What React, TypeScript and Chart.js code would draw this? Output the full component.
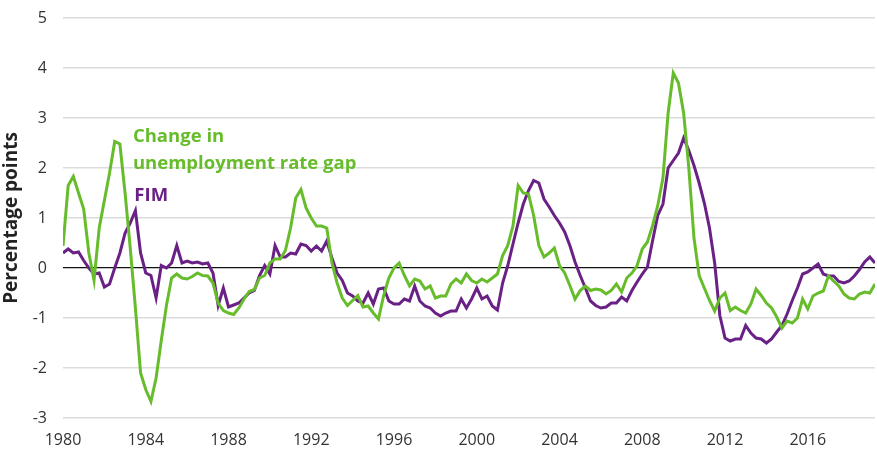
import React, { useEffect, useRef } from "react";
import { Chart, registerables } from "chart.js";

Chart.register(...registerables);

const START_YEAR = 1980;
const X_TICKS = [1980, 1984, 1988, 1992, 1996, 2000, 2004, 2008, 2012, 2016];
const Y_TICKS = [-3, -2, -1, 0, 1, 2, 3, 4, 5];

// Quarterly values from 1980Q1
const unemploymentGapChange = [
  0.44, 1.65, 1.83, 1.5, 1.18, 0.3, -0.25, 0.8, 1.35, 1.9,
  2.53, 2.48, 1.5, 0.4, -0.8, -2.1, -2.43, -2.67, -2.2, -1.45,
  -0.75, -0.2, -0.12, -0.2, -0.22, -0.17, -0.1, -0.15, -0.16, -0.3,
  -0.7, -0.85, -0.9, -0.93, -0.8, -0.62, -0.47, -0.43, -0.2, -0.15,
  0.1, 0.18, 0.18, 0.35, 0.8, 1.4, 1.57, 1.2, 1.0, 0.84,
  0.84, 0.8, 0.1, -0.3, -0.6, -0.75, -0.65, -0.55, -0.78, -0.76,
  -0.9, -1.02, -0.55, -0.2, 0.0, 0.1, -0.15, -0.36, -0.22, -0.26,
  -0.42, -0.36, -0.6, -0.56, -0.56, -0.32, -0.22, -0.3, -0.12, -0.25,
  -0.3, -0.22, -0.28, -0.2, -0.12, 0.25, 0.45, 0.84, 1.65, 1.5,
  1.48, 1.05, 0.45, 0.22, 0.3, 0.4, 0.05, -0.1, -0.35, -0.62,
  -0.45, -0.36, -0.45, -0.42, -0.44, -0.52, -0.45, -0.32, -0.48, -0.2,
  -0.1, 0.05, 0.38, 0.52, 0.85, 1.25, 1.8, 3.1, 3.9, 3.7,
  3.1, 2.0, 0.6, -0.15, -0.4, -0.65, -0.86, -0.6, -0.5, -0.85,
  -0.78, -0.85, -0.9, -0.72, -0.42, -0.55, -0.7, -0.8, -0.98, -1.2,
  -1.06, -1.1, -1.0, -0.62, -0.82, -0.56, -0.5, -0.46, -0.16, -0.26,
  -0.36, -0.52, -0.6, -0.62, -0.52, -0.48, -0.5, -0.32,
];

const fim = [
  0.3, 0.38, 0.3, 0.32, 0.15, 0.0, -0.12, -0.1, -0.38, -0.32,
  0.0, 0.3, 0.7, 0.9, 1.15, 0.3, -0.1, -0.15, -0.6, 0.05,
  0.0, 0.1, 0.45, 0.1, 0.14, 0.1, 0.12, 0.08, 0.1, -0.1,
  -0.75, -0.4, -0.78, -0.74, -0.7, -0.6, -0.5, -0.45, -0.15, 0.05,
  -0.12, 0.45, 0.22, 0.22, 0.3, 0.28, 0.48, 0.45, 0.34, 0.44,
  0.34, 0.54, 0.2, -0.1, -0.25, -0.5, -0.56, -0.66, -0.7, -0.5,
  -0.72, -0.42, -0.4, -0.66, -0.72, -0.72, -0.62, -0.66, -0.36, -0.66,
  -0.76, -0.8, -0.9, -0.96, -0.9, -0.86, -0.86, -0.62, -0.8, -0.62,
  -0.4, -0.62, -0.56, -0.76, -0.84, -0.3, 0.05, 0.48, 0.9, 1.28,
  1.55, 1.75, 1.7, 1.38, 1.22, 1.05, 0.9, 0.72, 0.45, 0.12,
  -0.15, -0.4, -0.66, -0.75, -0.8, -0.78, -0.7, -0.7, -0.58, -0.66,
  -0.45, -0.28, -0.12, 0.02, 0.55, 1.05, 1.28, 2.0, 2.15, 2.3,
  2.6, 2.35, 2.05, 1.7, 1.3, 0.8, 0.1, -0.95, -1.4, -1.46,
  -1.42, -1.42, -1.15, -1.3, -1.4, -1.42, -1.5, -1.42, -1.28, -1.15,
  -0.92, -0.65, -0.4, -0.12, -0.08, 0.0, 0.08, -0.12, -0.16, -0.16,
  -0.27, -0.3, -0.26, -0.16, -0.03, 0.12, 0.22, 0.1,
];

const GREEN = "#67bc2b";
const PURPLE = "#6a2185";
const FONT = "'Open Sans', 'Noto Sans', sans-serif";

const toPoints = (arr: number[]) =>
  arr.map((v, i) => ({ x: START_YEAR + i / 4, y: v }));

const labelsPlugin = {
  id: "seriesLabels",
  afterDatasetsDraw(chart: any) {
    const { ctx, scales } = chart;
    const xs = scales.x;
    const ys = scales.y;
    ctx.save();
    ctx.font = `bold 18.5px ${FONT}`;
    ctx.textBaseline = "middle";
    ctx.textAlign = "left";
    ctx.fillStyle = GREEN;
    ctx.fillText("Change in", xs.getPixelForValue(1983.38), ys.getPixelForValue(2.63));
    ctx.fillText("unemployment rate gap", xs.getPixelForValue(1983.38), ys.getPixelForValue(2.09));
    ctx.fillStyle = PURPLE;
    ctx.fillText("FIM", xs.getPixelForValue(1983.45), ys.getPixelForValue(1.45));
    ctx.restore();
  },
};

export default function App() {
  const ref = useRef<HTMLCanvasElement>(null);
  useEffect(() => {
    if (!ref.current) return;
    const lastX = START_YEAR + (unemploymentGapChange.length - 1) / 4;
    const chart = new Chart(ref.current, {
      type: "line",
      data: {
        datasets: [
          {
            label: "Change in unemployment rate gap",
            data: toPoints(unemploymentGapChange),
            borderColor: GREEN,
            borderWidth: 3,
            pointRadius: 0,
            tension: 0,
          },
          {
            label: "FIM",
            data: toPoints(fim),
            borderColor: PURPLE,
            borderWidth: 3,
            pointRadius: 0,
            tension: 0,
          },
        ],
      },
      options: {
        animation: false,
        responsive: false,
        maintainAspectRatio: false,
        layout: { padding: { top: 18, right: 2, left: 0, bottom: 0 } },
        plugins: { legend: { display: false }, tooltip: { enabled: false } },
        scales: {
          x: {
            type: "linear",
            min: START_YEAR,
            max: lastX,
            afterBuildTicks: (scale: any) => {
              scale.ticks = X_TICKS.map((v) => ({ value: v }));
            },
            afterFit: (scale: any) => {
              scale.height = 31;
              scale.paddingLeft = 0;
              scale.paddingRight = 0;
            },
            grid: { display: false },
            border: { display: false },
            ticks: {
              callback: (v: any) => String(v),
              color: "#333333",
              font: { family: FONT, size: 16 },
              padding: 5,
              maxRotation: 0,
              autoSkip: false,
            },
          },
          y: {
            min: -3,
            max: 5,
            afterBuildTicks: (scale: any) => {
              scale.ticks = Y_TICKS.map((v) => ({ value: v }));
            },
            afterFit: (scale: any) => {
              scale.width = 63;
              scale.paddingTop = 0;
              scale.paddingBottom = 0;
            },
            border: { display: false },
            grid: {
              color: (c: any) => (c.tick && c.tick.value === 0 ? "#111111" : "#dcdcdc"),
              lineWidth: (c: any) => (c.tick && c.tick.value === 0 ? 1.2 : 1.5),
              drawTicks: false,
            },
            ticks: {
              color: "#333333",
              font: { family: FONT, size: 16 },
              padding: 16,
            },
            title: {
              display: true,
              text: "Percentage points",
              color: "#222222",
              font: { family: FONT, size: 19, weight: "bold" },
              padding: { top: 0, bottom: 3 },
            },
          },
        },
      },
      plugins: [labelsPlugin],
    });
    return () => chart.destroy();
  }, []);
  return (
    <div style={{ position: "fixed", left: 0, top: 0, width: 877, height: 449, background: "#fff" }}>
      <canvas ref={ref} width={877} height={449} style={{ width: 877, height: 449 }} />
    </div>
  );
}
